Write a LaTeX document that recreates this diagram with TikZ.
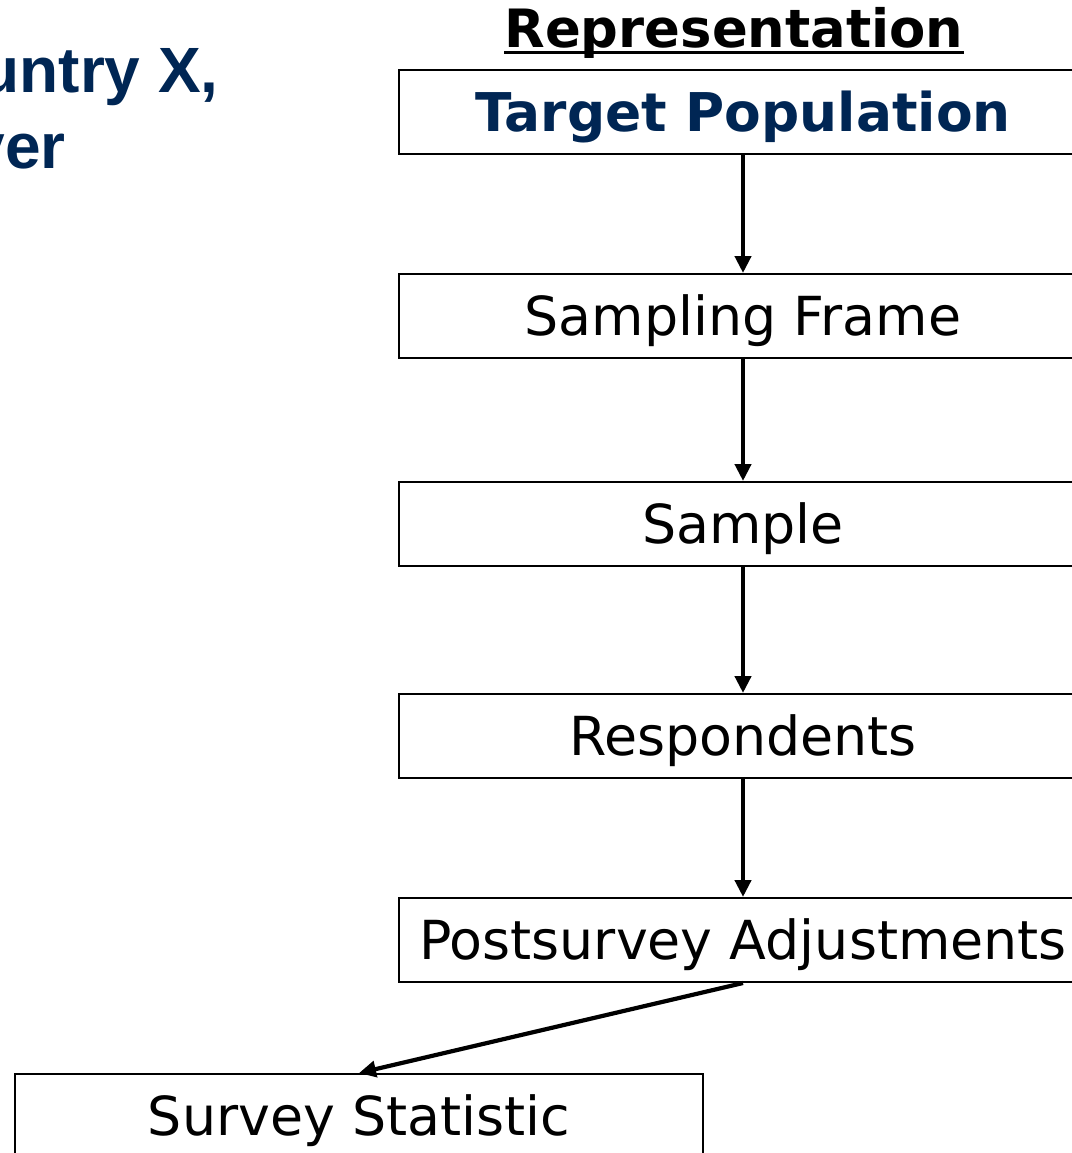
\documentclass[tikz,border=0pt]{standalone}
\usepackage{fontspec}
\setmainfont{DejaVu Sans}
\newfontfamily\arialbold{Liberation Sans}[BoldFont={Liberation Sans Bold}]
\usetikzlibrary{arrows.meta}
\definecolor{navy}{RGB}{0,38,84}
\begin{document}
\begin{tikzpicture}[x=1pt,y=-1pt,
  box/.style={draw, line width=2pt, minimum width=688pt, minimum height=84pt,
    inner sep=0pt, text height=39pt, text depth=0pt,
    font=\fontsize{53.8}{63}\selectfont},
  flow/.style={line width=4.2pt, -{Triangle[length=17pt,width=16pt]}}]
\useasboundingbox (0,0) rectangle (1071,1153);
\node[anchor=base east, inner sep=0pt, text=navy, font=\arialbold\bfseries\fontsize{64}{75}\selectfont] (t1) at (219,93) {untry X,};
\node[anchor=base east, inner sep=0pt, text=navy, font=\arialbold\bfseries\fontsize{64}{75}\selectfont] (t2) at (66,168) {ver};
\node[anchor=base, inner sep=0pt, font=\bfseries\fontsize{52.8}{63}\selectfont] (rep) at (734,48) {Representation};
\draw[line width=3pt] ([yshift=-5pt]rep.base west) -- ([yshift=-5pt]rep.base east);
\node[box, text=navy, font=\bfseries\fontsize{53.4}{63}\selectfont] (tp) at (743,112) {Target Population};
\node[box] (sf) at (743,316) {Sampling Frame};
\node[box] (sa) at (743,524) {Sample};
\node[box] (re) at (743,736) {Respondents};
\node[box] (ps) at (743,940) {Postsurvey Adjustments};
\node[box] (ss) at (359,1116) {Survey Statistic};
\draw[flow] (tp.south) -- (sf.north);
\draw[flow] (sf.south) -- (sa.north);
\draw[flow] (sa.south) -- (re.north);
\draw[flow] (re.south) -- (ps.north);
\draw[flow] (ps.south) -- (ss.north);
\end{tikzpicture}
\end{document}
